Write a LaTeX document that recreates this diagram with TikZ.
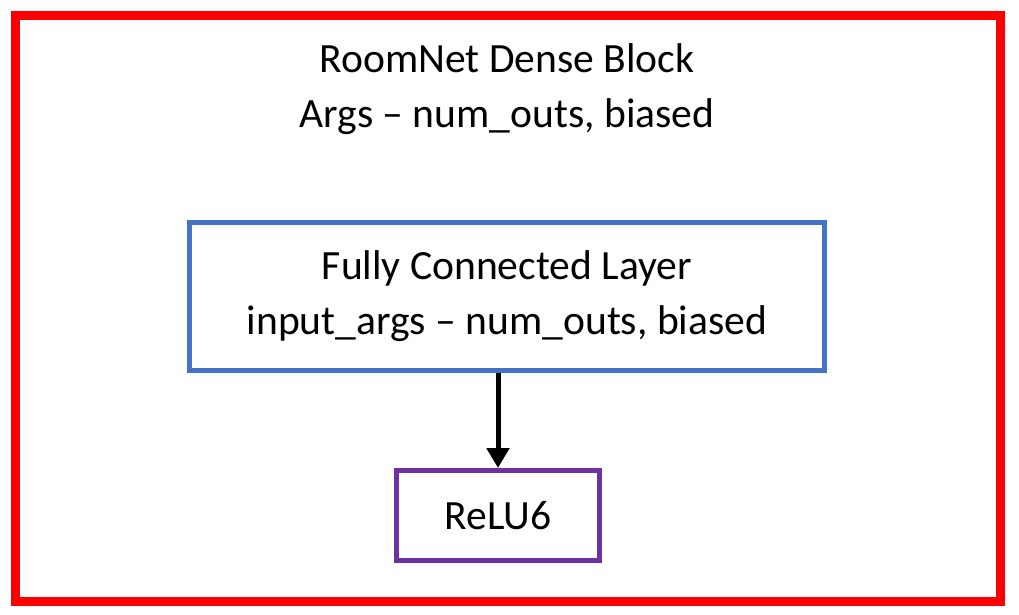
\documentclass[tikz,border=0pt]{standalone}
\usepackage{fontspec}
\setmainfont{Carlito}
\usetikzlibrary{arrows.meta}
\definecolor{frame_red}{HTML}{FF0000}
\definecolor{layer_blue}{HTML}{4472C4}
\definecolor{act_purple}{HTML}{7030A0}
\tikzstyle{block_box}=[rectangle,
                       line width=5pt,
                       inner sep=0pt,
                       align=center,
                       font=\fontsize{41.6}{55}\selectfont]
\tikzstyle{block_text}=[align=center,
                        inner sep=0pt,
                        font=\fontsize{41.6}{55}\selectfont]

\begin{document}
\begin{tikzpicture}[x=1pt, y=-1pt]
    \useasboundingbox (0, 0) rectangle (1019, 615);

    \node at (508, 308.5) (frame) [block_box, draw=frame_red, line width=9pt,
                                   minimum width=985pt, minimum height=586pt] {};
    \node at (507, 89) (title) [block_text] {RoomNet Dense Block\\Args -- num\_outs, biased};

    \node at (507, 296) (fc) [block_box, draw=layer_blue,
                              minimum width=635pt, minimum height=148pt]
        {Fully Connected Layer\\input\_args -- num\_outs, biased};
    \node at (498, 515.5) (relu) [block_box, draw=act_purple,
                                  minimum width=203pt, minimum height=90pt] {ReLU6};

    \draw[line width=5pt, -{Triangle[width=22pt, length=20pt]}] (fc.south -| relu.north) -- (relu.north);
\end{tikzpicture}
\end{document}
